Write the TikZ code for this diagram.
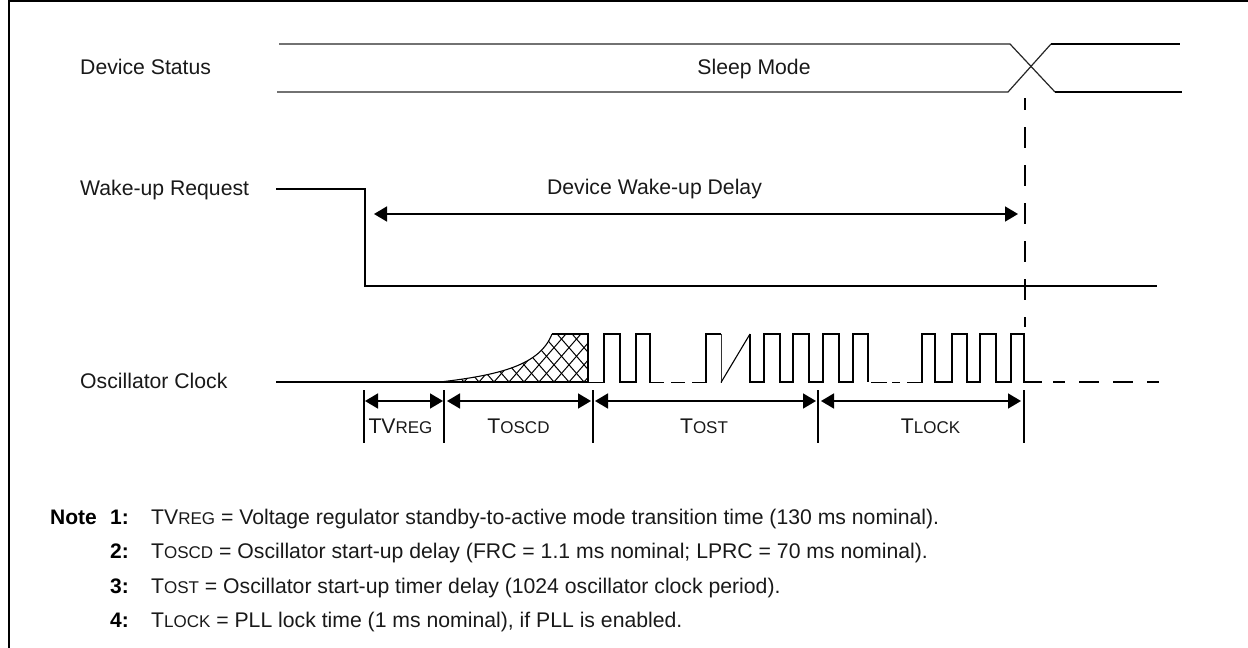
\documentclass[tikz,border=0pt]{standalone}
\usepackage{fontspec}
\setmainfont{Liberation Sans}
\usetikzlibrary{arrows.meta}
\newcommand{\smc}[1]{{\fontsize{17}{20}\selectfont #1}}
\tikzset{
  lbl/.style={inner sep=0pt,anchor=base west,font=\fontsize{21.2}{24}\selectfont,text=black!90},
  ctr/.style={inner sep=0pt,anchor=base,font=\fontsize{21.2}{24}\selectfont,text=black!90},
  note/.style={inner sep=0pt,anchor=base west,font=\fontsize{21.2}{24}\selectfont,text=black!90},
  noten/.style={inner sep=0pt,anchor=base west,font=\fontsize{21}{24}\selectfont\bfseries},
  wave/.style={line width=1.7pt,line cap=butt,line join=miter},
  thin wave/.style={line width=1.2pt,black!85},
  dim/.style={line width=1.7pt,{Triangle[length=13pt,width=15pt]}-{Triangle[length=13pt,width=15pt]},shorten >=0pt,shorten <=0pt},
  dimtick/.style={line width=1.7pt},
  hatch/.style={line width=1pt},
}
\begin{document}
\begin{tikzpicture}[x=1pt,y=-1pt]
\useasboundingbox (0,0) rectangle (1248,648);
% frame: top and left only
\draw[line width=2pt] (9,648) -- (9,1) -- (1248,1);

% labels
\node[lbl] (devstatus) at (80,74) {Device Status};
\node[lbl] (wakereq) at (80,195) {Wake-up Request};
\node[lbl] (oscclk) at (80,388) {Oscillator Clock};
\node[ctr] (sleep) at (754,74) {Sleep Mode};
\node[ctr] (wakedelay) at (654.5,194) {Device Wake-up Delay};

% device status
\draw[thin wave] (279,44) -- (1010,44) -- (1055,92);
\draw[thin wave] (277,92) -- (1008,92) -- (1051,44);
\draw[wave] (1051,44) -- (1180,44);
\draw[wave] (1055,92) -- (1182,92);

% wake request
\draw[wave] (276,189) -- (365,189) -- (365,286) -- (1157,286);

% vertical dashed
\coordinate (vtop) at (1025,98);
\coordinate (vbot) at (1025,327);
\draw[wave,dash pattern=on 21pt off 17pt,dash phase=9pt] (vtop) -- (vbot);

% wake delay arrow
\coordinate (wl) at (374,214);
\coordinate (wr) at (1018,214);
\draw[dim] (wl) -- (wr);

% oscillator: hatch
\begin{scope}
\clip (440,382) .. controls (500,375) and (540,365) .. (552,334) -- (588,334) -- (588,382) -- cycle;
\foreach \k in {0,...,16}{
  \draw[hatch] ({434+15*\k},382) -- ++(-48,-55);
  \draw[hatch] ({434+15*\k},382) -- ++(48,-55);
}
\end{scope}
\draw[line width=1.1pt] (440,382) .. controls (500,375) and (540,365) .. (552,334);

% oscillator clock wave
\draw[wave] (276,382) -- (440,382);
\draw[wave] (440,382) -- (588,382);
\draw[wave] (552,334) -- (588,334) -- (588,382.5) -- (604,382.5) -- (604,334) -- (620,334) -- (620,382) -- (636,382) -- (636,334) -- (650,334) -- (650,382.5) -- (664,382.5);
\draw[wave] (671,382.5) -- (685,382.5);
\draw[wave] (692,382.5) -- (706,382.5) -- (706,334) -- (721,334);
\draw[line width=1pt,black!80] (721,334) -- (721,382.5);
\draw[line width=1.1pt] (721,382.5) -- (750,334);
\draw[wave] (750,334) -- (750,382) -- (764,382) -- (764,334) -- (780,334) -- (780,382) -- (793,382) -- (793,334) -- (809,334) -- (809,382) -- (823,382) -- (823,334) -- (839,334) -- (839,382) -- (853,382) -- (853,334) -- (868,334) -- (868,382);
\draw[wave] (871,382.5) -- (887,382.5);
\draw[wave] (892,382.5) -- (900,382.5);
\draw[wave] (907,382.5) -- (921,382.5);
\draw[wave] (922,382.5) -- (922,334) -- (935,334) -- (935,382) -- (952,382) -- (952,334) -- (967,334) -- (967,382) -- (980,382) -- (980,334) -- (996,334) -- (996,382) -- (1011,382) -- (1011,334) -- (1024,334) -- (1024,382) -- (1042,382);
\draw[wave] (1053,382) -- (1065,382);
\draw[wave] (1079,382) -- (1099,382);
\draw[wave] (1113,382) -- (1133,382);
\draw[wave] (1147,382) -- (1159,382);

% ticks
\foreach \n/\x in {a/364,b/444,c/593,d/818,e/1024}{
  \coordinate (\n t) at (\x,390);
  \coordinate (\n b) at (\x,443);
  \draw[dimtick] (\n t) -- (\n b);
}
% dimension arrows
\coordinate (a1) at (365,401); \coordinate (a2) at (443,401);
\coordinate (b1) at (447,401); \coordinate (b2) at (591,401);
\coordinate (c1) at (595,401); \coordinate (c2) at (816,401);
\coordinate (d1) at (821,401); \coordinate (d2) at (1021,401);
\draw[dim] (a1) -- (a2);
\draw[dim] (b1) -- (b2);
\draw[dim] (c1) -- (c2);
\draw[dim] (d1) -- (d2);

\node[ctr] (tvreg) at (400.5,433) {TV\smc{REG}};
\node[ctr] (toscd) at (518.5,433) {T\smc{OSCD}};
\node[ctr] (tost) at (704,433) {T\smc{OST}};
\node[ctr] (tlock) at (930.5,433) {T\smc{LOCK}};

% notes
\node[noten] (noteh) at (50,524) {Note};
\node[noten] (n1) at (110,524) {1:};
\node[noten] (n2) at (110,558) {2:};
\node[noten] (n3) at (110,593) {3:};
\node[noten] (n4) at (110,627) {4:};
\node[note] (t1) at (151,524) {TV\smc{REG} = Voltage regulator standby-to-active mode transition time (130 ms nominal).};
\node[note] (t2) at (151,558) {T\smc{OSCD} = Oscillator start-up delay (FRC = 1.1 ms nominal; LPRC = 70 ms nominal).};
\node[note] (t3) at (151,593) {T\smc{OST} = Oscillator start-up timer delay (1024 oscillator clock period).};
\node[note] (t4) at (151,627) {T\smc{LOCK} = PLL lock time (1 ms nominal), if PLL is enabled.};
\end{tikzpicture}
\end{document}
